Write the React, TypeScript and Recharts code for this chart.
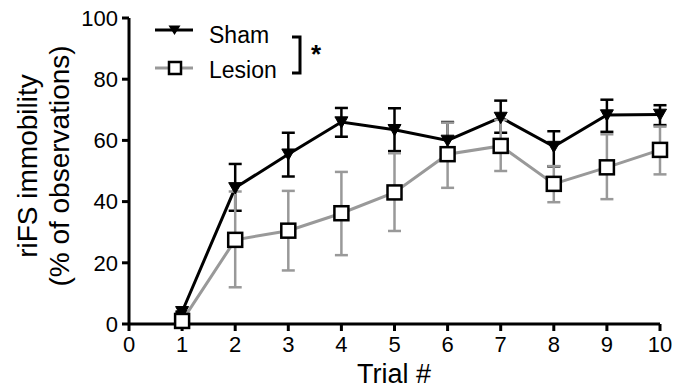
import React from 'react';
import { LineChart, Line, XAxis, YAxis, ErrorBar } from 'recharts';

const trials = [1, 2, 3, 4, 5, 6, 7, 8, 9, 10];
const shamMean = [4, 44.5, 55.5, 66, 63.5, 60, 67.5, 58, 68.3, 68.5];
const shamErrLow = [0, 7.5, 7.3, 4.8, 7, 5, 5, 6.5, 5.5, 3.5];
const shamErrHigh = [0, 7.8, 7, 4.6, 7, 6, 5.5, 5, 5, 3];
const lesionMean = [1, 27.5, 30.5, 36.2, 43, 55.5, 58.2, 45.8, 51.2, 56.9];
const lesionErrLow = [0, 15.5, 13, 13.7, 12.6, 11, 8.2, 6, 10.4, 8];
const lesionErrHigh = [0, 15.8, 13, 13.5, 12.8, 10.3, 8.5, 5.8, 10.8, 7.6];
const xTicks = [0, 1, 2, 3, 4, 5, 6, 7, 8, 9, 10];
const yTicks = [0, 20, 40, 60, 80, 100];
const seriesNames = ['Sham', 'Lesion'];

const data = trials.map((t, i) => ({
  trial: t,
  sham: shamMean[i],
  shamErr: [shamErrLow[i], shamErrHigh[i]],
  lesion: lesionMean[i],
  lesionErr: [lesionErrLow[i], lesionErrHigh[i]],
}));

const FONT = 'Liberation Sans, Arial, Helvetica, sans-serif';
const GRAY = '#999999';

const TriangleDot = (props: any) => {
  const { cx, cy, index } = props;
  if (cx == null || cy == null) return <g key={`t${index}`} />;
  const s = 6.5;
  return (
    <path
      key={`t${index}`}
      d={`M${cx - s},${cy - s * 0.8} L${cx + s},${cy - s * 0.8} L${cx},${cy + s * 0.95} Z`}
      fill="#000"
      stroke="#000"
      strokeWidth={1}
    />
  );
};

const SquareDot = (props: any) => {
  const { cx, cy, index } = props;
  if (cx == null || cy == null) return <g key={`s${index}`} />;
  const s = 7;
  return (
    <rect
      key={`s${index}`}
      x={cx - s}
      y={cy - s}
      width={2 * s}
      height={2 * s}
      fill="#fff"
      stroke="#000"
      strokeWidth={2.5}
    />
  );
};

const LegendOverlay = () => (
  <svg
    width={200}
    height={80}
    style={{ position: 'absolute', left: 150, top: 10, overflow: 'visible' }}
  >
    <line x1={5} y1={20} x2={43} y2={20} stroke="#000" strokeWidth={3} />
    <path d="M18.5,15.5 L30.5,15.5 L24.5,25 Z" fill="#000" />
    <text x={59} y={33} fontSize={23} fontFamily={FONT} fill="#000">{seriesNames[0]}</text>
    <line x1={5} y1={58} x2={43} y2={58} stroke={GRAY} strokeWidth={3} />
    <rect x={19} y={52} width={12} height={12} fill="#fff" stroke="#000" strokeWidth={2.5} />
    <text x={59} y={68} fontSize={23} fontFamily={FONT} fill="#000">{seriesNames[1]}</text>
    <path d="M142,27 L150,27 L150,63 L142,63" fill="none" stroke="#000" strokeWidth={3} />
    <text x={161} y={53} fontSize={26} fontWeight="bold" fontFamily={FONT} fill="#000">*</text>
  </svg>
);

const YLabel = () => {
  const cy = 166;
  return (
    <g>
      <text
        x={37}
        y={cy}
        transform={`rotate(-90, 37, ${cy})`}
        textAnchor="middle"
        fontSize={28}
        fontFamily={FONT}
        fill="#000"
      >
        riFS immobility
      </text>
      <text
        x={69}
        y={cy}
        transform={`rotate(-90, 69, ${cy})`}
        textAnchor="middle"
        fontSize={28}
        fontFamily={FONT}
        fill="#000"
      >
        (% of observations)
      </text>
    </g>
  );
};

const XLabel = () => (
  <text x={394} y={383} textAnchor="middle" fontSize={27} fontFamily={FONT} fill="#000">
    Trial #
  </text>
);

export default function App() {
  return (
    <div style={{ position: 'absolute', left: 0, top: 0, width: 674, height: 389, background: '#fff' }}>
      <LineChart
        width={674}
        height={389}
        data={data}
        margin={{ top: 18, right: 14, bottom: 0, left: 0 }}
      >
        <XAxis
          dataKey="trial"
          type="number"
          domain={[0, 10]}
          ticks={xTicks}
          interval={0}
          height={65}
          axisLine={{ stroke: '#000', strokeWidth: 3 }}
          tickLine={{ stroke: '#000', strokeWidth: 3 }}
          tickSize={7}
          tickMargin={5}
          tick={{ fill: '#000', fontSize: 22, fontFamily: FONT }}
          label={<XLabel />}
        />
        <YAxis
          type="number"
          domain={[0, 100]}
          ticks={yTicks}
          interval={0}
          width={129}
          axisLine={{ stroke: '#000', strokeWidth: 3 }}
          tickLine={{ stroke: '#000', strokeWidth: 3 }}
          tickSize={7}
          tickMargin={4}
          tick={{ fill: '#000', fontSize: 22, fontFamily: FONT }}
          label={<YLabel />}
        />
        <Line
          dataKey="sham"
          name={seriesNames[0]}
          stroke="#000"
          strokeWidth={3}
          dot={TriangleDot}
          activeDot={false}
          isAnimationActive={false}
        >
          <ErrorBar dataKey="shamErr" width={6.5} stroke="#000" strokeWidth={2.5} direction="y" />
        </Line>
        <Line
          dataKey="lesion"
          name={seriesNames[1]}
          stroke={GRAY}
          strokeWidth={3}
          dot={SquareDot}
          activeDot={false}
          isAnimationActive={false}
        >
          <ErrorBar dataKey="lesionErr" width={6.5} stroke={GRAY} strokeWidth={2.5} direction="y" />
        </Line>
      </LineChart>
      <LegendOverlay />
    </div>
  );
}
